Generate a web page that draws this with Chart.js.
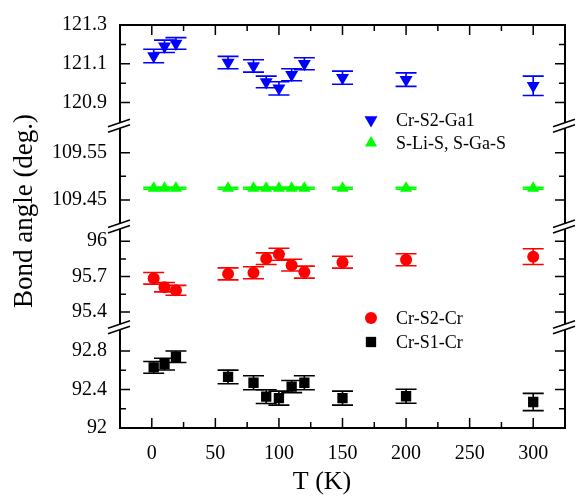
<!DOCTYPE html>
<html>
<head>
<meta charset="utf-8">
<script src="https://cdn.jsdelivr.net/npm/chart.js@4.4.0/dist/chart.umd.min.js"></script>
<style>
  html, body { margin: 0; padding: 0; background: #fff; }
  #wrap { width: 576px; height: 497px; }
</style>
</head>
<body>
<div id="wrap"><canvas id="myChart" width="576" height="497"></canvas></div>
<script>
// temperatures (K)
var temps = [1.5, 10, 19, 60, 80, 90, 100, 110, 120, 150, 200, 300];

// bond angles (deg.) with error bars
var crS2Ga1    = [121.14, 121.19, 121.205, 121.106, 121.089, 121.006, 120.973, 121.043, 121.1, 121.028, 121.018, 120.986];
var crS2Ga1Err = [0.035, 0.032, 0.03, 0.032, 0.032, 0.03, 0.034, 0.031, 0.031, 0.034, 0.035, 0.05];
var sLiS       = [109.475, 109.475, 109.475, 109.475, 109.475, 109.475, 109.475, 109.475, 109.475, 109.475, 109.475, 109.475];
var sLiSErr    = [0.002, 0.002, 0.002, 0.002, 0.002, 0.002, 0.002, 0.002, 0.002, 0.002, 0.002, 0.002];
var crS2Cr     = [95.685, 95.61, 95.583, 95.723, 95.732, 95.852, 95.89, 95.797, 95.738, 95.822, 95.843, 95.869];
var crS2CrErr  = [0.049, 0.04, 0.042, 0.051, 0.051, 0.049, 0.051, 0.05, 0.051, 0.05, 0.051, 0.067];
var crS1Cr     = [92.629, 92.663, 92.74, 92.53, 92.47, 92.326, 92.31, 92.43, 92.47, 92.31, 92.33, 92.27];
var crS1CrErr  = [0.061, 0.061, 0.06, 0.071, 0.073, 0.071, 0.073, 0.063, 0.073, 0.073, 0.073, 0.09];

// tick labels
var xTicks = [0, 50, 100, 150, 200, 250, 300];
var xMinor = [25, 75, 125, 175, 225, 275];
var yTicks1 = [120.9, 121.1, 121.3];   var yMinor1 = [121.0, 121.2];
var yTicks2 = [109.45, 109.55];        var yMinor2 = [109.5];
var yTicks3 = [95.4, 95.7, 96];        var yMinor3 = [95.55, 95.85];
var yTicks4 = [92, 92.4, 92.8];        var yMinor4 = [92.2, 92.6];

var serif = '"Liberation Serif", "Times New Roman", serif';

function pts(vals) {
    return temps.map(function (t, i) { return {x: t, y: vals[i]}; });
}

// axis pieces of the broken y axis (bottom one first, top one last)
function ySeg(min, max, major, w) {
    return {
        type: 'linear', position: 'left', stack: 'ybreak', stackWeight: 1, weight: w,
        min: min, max: max,
        grid: {display: false, drawTicks: false},
        border: {display: false},
        afterBuildTicks: function (axis) {
            axis.ticks = major.map(function (v) { return {value: v}; });
        },
        afterFit: function (axis) { axis.width = 120; },
        ticks: {
            autoSkip: false, padding: 13, color: '#000',
            font: {family: serif, size: 20},
            callback: function (v) { return String(Math.round(v * 100) / 100); }
        }
    };
}

var minorTicks = {ySeg1: yMinor1, ySeg2: yMinor2, ySeg3: yMinor3, ySeg4: yMinor4};
var majorTicks = {ySeg1: yTicks1, ySeg2: yTicks2, ySeg3: yTicks3, ySeg4: yTicks4};

// the "//" mark where the axis is cut
function breakMark(ctx, x, y) {
    var a = [x - 12, y + 1], b = [x + 10, y - 6.5], c = [x + 10, y - 1], d = [x - 12, y + 6.5];
    ctx.fillStyle = '#fff';
    ctx.beginPath();
    ctx.moveTo(a[0], a[1]); ctx.lineTo(b[0], b[1]); ctx.lineTo(c[0], c[1]); ctx.lineTo(d[0], d[1]);
    ctx.closePath();
    ctx.fill();
    ctx.strokeStyle = '#000';
    ctx.lineWidth = 1.5;
    ctx.beginPath();
    ctx.moveTo(a[0], a[1]); ctx.lineTo(b[0], b[1]);
    ctx.moveTo(d[0], d[1]); ctx.lineTo(c[0], c[1]);
    ctx.stroke();
}

var framePlugin = {
    id: 'frame',
    beforeDatasetsDraw: function (chart) {
        // error bars
        var ctx = chart.ctx;
        ctx.save();
        chart.data.datasets.forEach(function (ds, i) {
            var meta = chart.getDatasetMeta(i);
            var ys = chart.scales[ds.yAxisID];
            ctx.strokeStyle = ds.borderColor;
            ctx.lineWidth = 1.6;
            meta.data.forEach(function (p, j) {
                var v = ds.data[j].y, e = ds.err[j];
                var y1 = ys.getPixelForValue(v + e), y2 = ys.getPixelForValue(v - e);
                ctx.beginPath();
                ctx.moveTo(p.x, y1); ctx.lineTo(p.x, y2);
                ctx.moveTo(p.x - 10.5, y1); ctx.lineTo(p.x + 10.5, y1);
                ctx.moveTo(p.x - 10.5, y2); ctx.lineTo(p.x + 10.5, y2);
                ctx.stroke();
            });
        });
        ctx.restore();
    },
    afterDraw: function (chart) {
        var ctx = chart.ctx, ca = chart.chartArea;
        var xs = chart.scales.x;
        ctx.save();
        ctx.strokeStyle = '#000';
        ctx.lineWidth = 1.5;

        // x ticks, bottom and top, pointing inward
        ctx.beginPath();
        xTicks.concat(xMinor).forEach(function (v) {
            var len = xTicks.indexOf(v) >= 0 ? 10 : 6;
            var px = xs.getPixelForValue(v);
            ctx.moveTo(px, ca.bottom); ctx.lineTo(px, ca.bottom - len);
            ctx.moveTo(px, ca.top); ctx.lineTo(px, ca.top + len);
        });
        // y ticks, left and right
        Object.keys(majorTicks).forEach(function (id) {
            var ys = chart.scales[id];
            majorTicks[id].concat(minorTicks[id]).forEach(function (v) {
                var len = majorTicks[id].indexOf(v) >= 0 ? 10 : 6;
                var py = ys.getPixelForValue(v);
                ctx.moveTo(ca.left, py); ctx.lineTo(ca.left + len, py);
                ctx.moveTo(ca.right, py); ctx.lineTo(ca.right - len, py);
            });
        });
        ctx.stroke();

        // frame
        ctx.lineWidth = 2;
        ctx.strokeRect(ca.left, ca.top, ca.right - ca.left, ca.bottom - ca.top);

        // axis breaks
        ['ySeg1', 'ySeg2', 'ySeg3'].forEach(function (id) {
            var yb = chart.scales[id].bottom;
            breakMark(ctx, ca.left, yb);
            breakMark(ctx, ca.right, yb);
        });

        // axis titles
        ctx.fillStyle = '#000';
        ctx.textAlign = 'center';
        ctx.textBaseline = 'middle';
        ctx.font = '26px ' + serif;
        ctx.fillText('T (K)', 322, 482);
        ctx.save();
        ctx.translate(25, 211);
        ctx.rotate(-Math.PI / 2);
        ctx.font = '27px ' + serif;
        ctx.fillText('Bond angle (deg.)', 0, 0);
        ctx.restore();

        // legends
        var legendItems = [
            {ds: 0, y: 120}, {ds: 1, y: 143}, {ds: 2, y: 318}, {ds: 3, y: 342}
        ];
        ctx.font = '18px ' + serif;
        ctx.textAlign = 'left';
        legendItems.forEach(function (li) {
            var ds = chart.data.datasets[li.ds];
            ctx.fillStyle = ds.backgroundColor;
            ctx.strokeStyle = ds.borderColor;
            Chart.helpers.drawPoint(ctx, {
                pointStyle: ds.pointStyle, radius: ds.pointRadius,
                rotation: ds.pointRotation || 0, borderWidth: 0
            }, 371, li.y);
            ctx.fillStyle = '#000';
            ctx.fillText(ds.label, 396, li.y + 1);
        });
        ctx.restore();
    }
};

new Chart(document.getElementById('myChart'), {
    type: 'scatter',
    data: {
        datasets: [
            {label: 'Cr-S2-Ga1', data: pts(crS2Ga1), err: crS2Ga1Err, yAxisID: 'ySeg1',
             backgroundColor: '#0000ff', borderColor: '#0000ff', borderWidth: 0,
             pointStyle: 'triangle', pointRotation: 180, pointRadius: 7.5, pointHoverRadius: 7.5},
            {label: 'S-Li-S, S-Ga-S', data: pts(sLiS), err: sLiSErr, yAxisID: 'ySeg2',
             backgroundColor: '#00ff00', borderColor: '#00ff00', borderWidth: 0,
             pointStyle: 'triangle', pointRadius: 7, pointHoverRadius: 7},
            {label: 'Cr-S2-Cr', data: pts(crS2Cr), err: crS2CrErr, yAxisID: 'ySeg3',
             backgroundColor: '#ff0000', borderColor: '#ff0000', borderWidth: 0,
             pointStyle: 'circle', pointRadius: 6, pointHoverRadius: 6},
            {label: 'Cr-S1-Cr', data: pts(crS1Cr), err: crS1CrErr, yAxisID: 'ySeg4',
             backgroundColor: '#000000', borderColor: '#000000', borderWidth: 0,
             pointStyle: 'rect', pointRadius: 7.3, pointHoverRadius: 7.3}
        ]
    },
    options: {
        responsive: false,
        animation: false,
        devicePixelRatio: 1,
        layout: {padding: {top: 18, right: 11, left: 0, bottom: 0}},
        plugins: {legend: {display: false}, tooltip: {enabled: false}},
        scales: {
            x: {
                type: 'linear', min: -25, max: 325,
                grid: {display: false, drawTicks: false},
                border: {display: false},
                afterBuildTicks: function (axis) {
                    axis.ticks = xTicks.map(function (v) { return {value: v}; });
                },
                afterFit: function (axis) { axis.height = 69; },
                ticks: {autoSkip: false, padding: 14, color: '#000', maxRotation: 0,
                        font: {family: serif, size: 20}}
            },
            ySeg4: ySeg(92, 93.046, yTicks4, 1),
            ySeg3: ySeg(95.27, 96.125, yTicks3, 2),
            ySeg2: ySeg(109.394, 109.607, yTicks2, 3),
            ySeg1: ySeg(120.78, 121.3, yTicks1, 4)
        }
    },
    plugins: [framePlugin]
});
</script>
</body>
</html>
